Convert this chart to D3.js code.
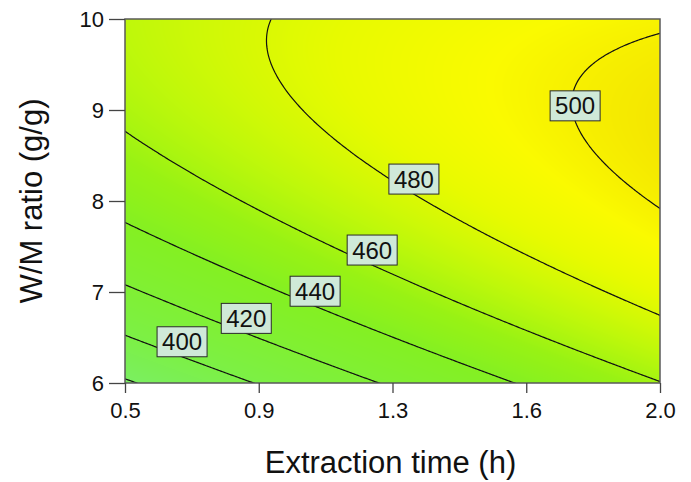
<!DOCTYPE html>
<html>
<head>
<meta charset="utf-8">
<script src="https://cdn.jsdelivr.net/npm/d3@7"></script>
<style>
  html, body { margin: 0; padding: 0; background: #ffffff; }
  svg { display: block; font-family: "Liberation Sans", Arial, sans-serif; }
</style>
</head>
<body>
<svg id="chart" width="691" height="482"></svg>
<script>
// Second-order response model in coded factors:
// A = extraction time, B = W/M ratio (both scaled to -1..+1)
const modelTerms   = ["Intercept", "A", "B", "AB", "A^2", "B^2"];
const coefficients = [476.65, 27.57, 32.56, -13.2, -3.38, -22.0];

const timeRange  = [0.5, 2.0];   // h
const ratioRange = [6, 10];      // g/g

const contourLevels = [380, 400, 420, 440, 460, 480, 500];
const labeledLevels = [400, 420, 440, 460, 480, 500];

const xTickLabels = ["0.5", "0.9", "1.3", "1.6", "2.0"];
const yTickLabels = ["6", "7", "8", "9", "10"];

// ---------------------------------------------------------------
const codeA = t => (t - (timeRange[0] + timeRange[1]) / 2) / ((timeRange[1] - timeRange[0]) / 2);
const codeB = r => (r - (ratioRange[0] + ratioRange[1]) / 2) / ((ratioRange[1] - ratioRange[0]) / 2);

function response(t, r) {
  const a = codeA(t), b = codeB(r);
  const [b0, b1, b2, b12, b11, b22] = coefficients;
  return b0 + b1 * a + b2 * b + b12 * a * b + b11 * a * a + b22 * b * b;
}

// ratio on the lower branch of a contour level at a given time
function ratioOnLevel(t, level) {
  const a = codeA(t);
  const [b0, b1, b2, b12, b11, b22] = coefficients;
  const qa = b22, qb = b2 + b12 * a, qc = b0 + b1 * a + b11 * a * a - level;
  const disc = Math.max(0, qb * qb - 4 * qa * qc);
  const roots = [(-qb + Math.sqrt(disc)) / (2 * qa), (-qb - Math.sqrt(disc)) / (2 * qa)];
  const bCoded = Math.min(roots[0], roots[1]);
  const mid = (ratioRange[0] + ratioRange[1]) / 2, half = (ratioRange[1] - ratioRange[0]) / 2;
  return mid + bCoded * half;
}

const svg = d3.select("#chart");
const plot = { left: 125, top: 19, right: 660, bottom: 383 };
const W = plot.right - plot.left, H = plot.bottom - plot.top;

const x = d3.scaleLinear().domain(timeRange).range([plot.left, plot.right]);
const y = d3.scaleLinear().domain(ratioRange).range([plot.bottom, plot.top]);

const color = d3.scaleLinear()
  .domain([372, 400, 440, 455, 470, 485, 495, 508])
  .range(["#7aee6a", "#7cf046", "#84f022", "#98f214", "#c0f80a", "#e8fa00", "#fafa00", "#f2e000"])
  .clamp(true);

// ---- colour field ------------------------------------------------
const canvas = document.createElement("canvas");
canvas.width = W; canvas.height = H;
const ctx = canvas.getContext("2d");
const img = ctx.createImageData(W, H);
for (let py = 0; py < H; py++) {
  const r = y.invert(plot.top + py + 0.5);
  for (let px = 0; px < W; px++) {
    const t = x.invert(plot.left + px + 0.5);
    const c = d3.rgb(color(response(t, r)));
    const k = (py * W + px) * 4;
    img.data[k] = c.r; img.data[k + 1] = c.g; img.data[k + 2] = c.b; img.data[k + 3] = 255;
  }
}
ctx.putImageData(img, 0, 0);

svg.append("image")
  .attr("x", plot.left).attr("y", plot.top)
  .attr("width", W).attr("height", H)
  .attr("preserveAspectRatio", "none")
  .attr("href", canvas.toDataURL("image/png"));

// ---- contour lines ----------------------------------------------
svg.append("clipPath").attr("id", "plotClip")
  .append("rect").attr("x", plot.left).attr("y", plot.top).attr("width", W).attr("height", H);

const nx = 330, ny = 250;
const tPad = 0.03, rPad = 0.08;
const t0 = timeRange[0] - tPad, t1 = timeRange[1] + tPad;
const r0 = ratioRange[0] - rPad, r1 = ratioRange[1] + rPad;
const dt = (t1 - t0) / (nx - 1), dr = (r1 - r0) / (ny - 1);
const grid = new Float64Array(nx * ny);
for (let j = 0; j < ny; j++)
  for (let i = 0; i < nx; i++)
    grid[j * nx + i] = response(t0 + i * dt, r0 + j * dr);

const contours = d3.contours().size([nx, ny]).thresholds(contourLevels)(grid);
const gridToPixel = d3.geoTransform({
  point(gx, gy) {
    this.stream.point(x(t0 + (gx - 0.5) * dt), y(r0 + (gy - 0.5) * dr));
  }
});
const contourPath = d3.geoPath(gridToPixel);

svg.append("g")
  .attr("clip-path", "url(#plotClip)")
  .selectAll("path")
  .data(contours)
  .join("path")
  .attr("d", contourPath)
  .attr("fill", "none")
  .attr("stroke", "#111")
  .attr("stroke-width", 1.2);

// ---- frame and axes ---------------------------------------------
svg.append("rect")
  .attr("x", plot.left).attr("y", plot.top).attr("width", W).attr("height", H)
  .attr("fill", "none").attr("stroke", "#5a5a5a").attr("stroke-width", 1.5);

const xTickValues = xTickLabels.map((_, i) => timeRange[0] + i * (timeRange[1] - timeRange[0]) / (xTickLabels.length - 1));
const yTickValues = yTickLabels.map(Number);

const xAxis = svg.append("g")
  .attr("transform", `translate(0,${plot.bottom})`)
  .call(d3.axisBottom(x).tickValues(xTickValues).tickSize(10).tickPadding(9)
    .tickFormat((d, i) => xTickLabels[i]));
const yAxis = svg.append("g")
  .attr("transform", `translate(${plot.left},0)`)
  .call(d3.axisLeft(y).tickValues(yTickValues).tickSize(16).tickPadding(5)
    .tickFormat((d, i) => yTickLabels[i]));

[xAxis, yAxis].forEach(g => {
  g.select(".domain").remove();
  g.selectAll(".tick line").attr("stroke", "#444").attr("stroke-width", 1.3);
  g.selectAll(".tick text")
    .attr("fill", "#111")
    .style("font-family", "'Liberation Sans', Arial, sans-serif")
    .style("font-size", "22px");
});

svg.append("text")
  .attr("x", (plot.left + plot.right) / 2 - 2)
  .attr("y", 473)
  .attr("text-anchor", "middle")
  .attr("fill", "#111")
  .style("font-size", "31px")
  .text("Extraction time (h)");

svg.append("text")
  .attr("transform", `translate(42,${(plot.top + plot.bottom) / 2}) rotate(-90)`)
  .attr("text-anchor", "middle")
  .attr("fill", "#111")
  .style("font-size", "31px")
  .text("W/M ratio (g/g)");

// ---- contour value labels (box sits on the line by its lower edge) ----
const labelTimes = [0.66, 0.84, 1.033, 1.193, 1.31, 1.762];
const labels = svg.append("g");
labeledLevels.forEach((level, i) => {
  const t = labelTimes[i];
  const cx = x(t), cy = y(ratioOnLevel(t, level));
  const g = labels.append("g").attr("transform", `translate(${cx},${cy})`);
  g.append("rect")
    .attr("x", -25).attr("y", -30).attr("width", 50).attr("height", 30)
    .attr("fill", "#cfe9d8").attr("stroke", "#2a2a2a").attr("stroke-width", 1);
  g.append("text")
    .attr("text-anchor", "middle")
    .attr("y", -15)
    .attr("dy", "0.36em")
    .attr("fill", "#111")
    .style("font-size", "24px")
    .text(level);
});
</script>
</body>
</html>
